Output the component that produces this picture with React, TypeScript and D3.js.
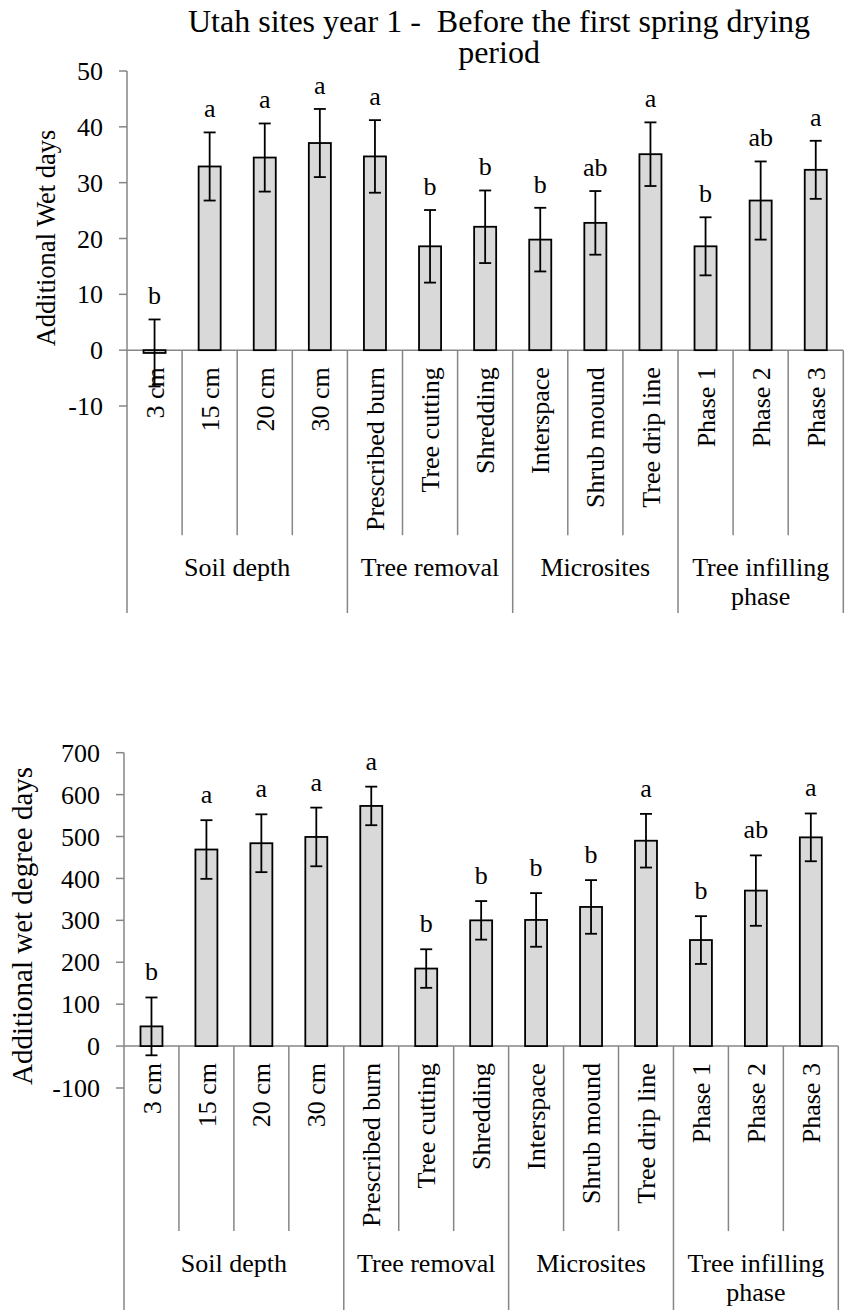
import React from "react";
import * as d3 from "d3";

// ---------- DATA ----------
const categories = [
  "3 cm", "15 cm", "20 cm", "30 cm",
  "Prescribed burn", "Tree cutting", "Shredding",
  "Interspace", "Shrub mound", "Tree drip line",
  "Phase 1", "Phase 2", "Phase 3",
];
const groupNames = [["Soil depth"], ["Tree removal"], ["Microsites"], ["Tree infilling", "phase"]];
const groupSizes = [4, 3, 3, 3];

const titleLines = ["Utah sites year 1 -  Before the first spring drying", "period"];

// Chart 1: Additional wet days
const wetDays = [-0.5, 32.9, 34.5, 37.1, 34.7, 18.6, 22.1, 19.8, 22.8, 35.1, 18.6, 26.8, 32.3];
const wetDaysErr = [6.0, 6.1, 6.1, 6.1, 6.5, 6.5, 6.5, 5.7, 5.7, 5.7, 5.2, 7.0, 5.2];
const wetDaysLetters = ["b", "a", "a", "a", "a", "b", "b", "b", "ab", "a", "b", "ab", "a"];
const wetDaysTicks = [-10, 0, 10, 20, 30, 40, 50];

// Chart 2: Additional wet degree days
const degreeDays = [47, 469, 484, 499, 573, 185, 300, 301, 332, 490, 253, 371, 498];
const degreeDaysErr = [69, 70, 69, 70, 46, 46, 46, 64, 64, 64, 57, 84, 57];
const degreeDaysLetters = ["b", "a", "a", "a", "a", "b", "b", "b", "b", "a", "b", "ab", "a"];
const degreeDaysTicks = [-100, 0, 100, 200, 300, 400, 500, 600, 700];

// ---------- STYLE ----------
const FONT = '"Liberation Serif", "Times New Roman", Times, serif';
const AXIS = "#868686";
const BAR_FILL = "#d9d9d9";

type ChartProps = {
  values: number[];
  errors: number[];
  letters: string[];
  ticks: number[];
  yRange: [number, number];
  xRange: [number, number];
  yLabel: string;
  yLabelX: number;
  yLabelY: number;
  yLabelSize: number;
  letterGap: number;
  bottom: number;
};

function Chart(p: ChartProps) {
  const x = d3.scaleBand<string>().domain(categories).range(p.xRange).padding(0);
  const y = d3
    .scaleLinear()
    .domain([p.ticks[0], p.ticks[p.ticks.length - 1]])
    .range(p.yRange);
  const y0 = y(0);
  const bw = x.bandwidth() * 0.4;
  const catBottom = y0 + 185;
  const x0 = p.xRange[0];

  const cum: number[] = [0];
  groupSizes.forEach((s) => cum.push(cum[cum.length - 1] + s));
  const boundaryX = (i: number) => (i < categories.length ? x(categories[i])! : p.xRange[1]);

  return (
    <g style={{ fontFamily: FONT }} fill="#000">
      {/* y axis */}
      <line x1={x0} x2={x0} y1={y(p.ticks[p.ticks.length - 1])} y2={p.bottom} stroke={AXIS} strokeWidth={1.5} />
      {p.ticks.map((t) => (
        <g key={t}>
          <line x1={x0 - 8} x2={x0} y1={y(t)} y2={y(t)} stroke={AXIS} strokeWidth={1.5} />
          <text x={x0 - 24} y={y(t)} dy="0.35em" textAnchor="end" fontSize={26}>
            {t}
          </text>
        </g>
      ))}
      {/* y label */}
      <text
        transform={`translate(${p.yLabelX},${p.yLabelY}) rotate(-90)`}
        textAnchor="middle"
        fontSize={p.yLabelSize}
      >
        {p.yLabel}
      </text>

      {/* category separators */}
      {d3.range(1, categories.length + 1).map((i) => {
        const isGroup = cum.includes(i);
        return (
          <line
            key={i}
            x1={boundaryX(i)}
            x2={boundaryX(i)}
            y1={y0}
            y2={isGroup ? p.bottom : catBottom}
            stroke={AXIS}
            strokeWidth={1.5}
          />
        );
      })}

      {/* category labels */}
      {categories.map((c) => (
        <text
          key={c}
          transform={`translate(${x(c)! + x.bandwidth() / 2},${y0 + 17}) rotate(-90)`}
          dy="0.35em"
          textAnchor="end"
          fontSize={26}
        >
          {c}
        </text>
      ))}

      {/* group labels */}
      {groupNames.map((lines, gi) => {
        const cx = (boundaryX(cum[gi]) + boundaryX(cum[gi + 1])) / 2;
        return (
          <text key={gi} x={cx} y={y0 + 226} textAnchor="middle" fontSize={26}>
            {lines.map((l, li) => (
              <tspan key={li} x={cx} dy={li === 0 ? 0 : 29}>
                {l}
              </tspan>
            ))}
          </text>
        );
      })}

      {/* x axis (zero line) */}
      <line x1={x0} x2={p.xRange[1]} y1={y0} y2={y0} stroke={AXIS} strokeWidth={1.5} />

      {/* bars */}
      {categories.map((c, i) => {
        const v = p.values[i];
        const cx = x(c)! + x.bandwidth() / 2;
        return (
          <rect
            key={c}
            x={cx - bw / 2}
            y={Math.min(y(v), y0)}
            width={bw}
            height={Math.abs(y(v) - y0)}
            fill={BAR_FILL}
            stroke="#000"
            strokeWidth={1.8}
          />
        );
      })}

      {/* error bars */}
      {categories.map((c, i) => {
        const v = p.values[i];
        const e = p.errors[i];
        const cx = x(c)! + x.bandwidth() / 2;
        const yt = y(v + e);
        const yb = y(v - e);
        return (
          <g key={c} stroke="#000" strokeWidth={1.8}>
            <line x1={cx} x2={cx} y1={yt} y2={yb} />
            <line x1={cx - 6} x2={cx + 6} y1={yt} y2={yt} />
            <line x1={cx - 6} x2={cx + 6} y1={yb} y2={yb} />
          </g>
        );
      })}

      {/* significance letters */}
      {categories.map((c, i) => {
        const cx = x(c)! + x.bandwidth() / 2;
        return (
          <text key={c} x={cx} y={y(p.values[i] + p.errors[i]) - p.letterGap} textAnchor="middle" fontSize={26}>
            {p.letters[i]}
          </text>
        );
      })}
    </g>
  );
}

export default function App() {
  return (
    <div style={{ position: "absolute", left: 0, top: 0, background: "#fff" }}>
      <svg width={850} height={1310} viewBox="0 0 850 1310" style={{ display: "block" }}>
        <rect width={850} height={1310} fill="#fff" />
        <g style={{ fontFamily: FONT }}>
          {titleLines.map((t, i) => (
            <text key={i} x={499} y={32 + i * 31} textAnchor="middle" fontSize={32} style={{ whiteSpace: "pre" }}>
              {t}
            </text>
          ))}
        </g>
        <Chart
          values={wetDays}
          errors={wetDaysErr}
          letters={wetDaysLetters}
          ticks={wetDaysTicks}
          yRange={[406, 71]}
          xRange={[127, 843.3]}
          yLabel="Additional Wet days"
          yLabelX={55}
          yLabelY={238}
          yLabelSize={26.5}
          letterGap={15}
          bottom={613}
        />
        <Chart
          values={degreeDays}
          errors={degreeDaysErr}
          letters={degreeDaysLetters}
          ticks={degreeDaysTicks}
          yRange={[1088, 752.7]}
          xRange={[124, 838.3]}
          yLabel="Additional wet degree days"
          yLabelX={32}
          yLabelY={926}
          yLabelSize={29}
          letterGap={17}
          bottom={1310}
        />
      </svg>
    </div>
  );
}
